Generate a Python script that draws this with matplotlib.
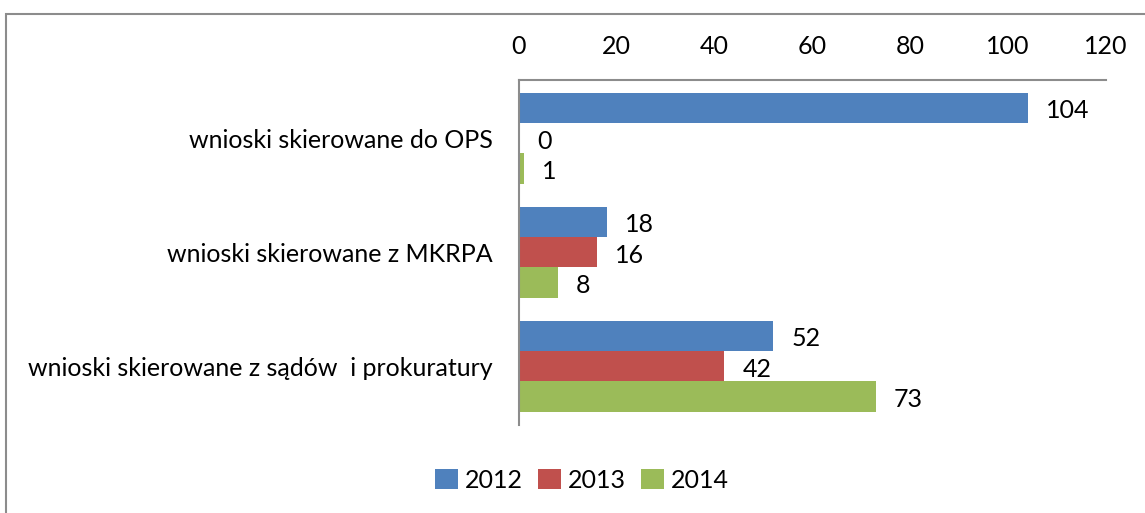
import numpy as np
import matplotlib
matplotlib.use("Agg")
from matplotlib import pyplot as plt
from matplotlib.patches import Rectangle

categories = ["wnioski skierowane do OPS",
              "wnioski skierowane z MKRPA",
              "wnioski skierowane z sądów  i prokuratury"]
years = ["2012", "2013", "2014"]
vals_2012 = [104, 18, 52]
vals_2013 = [0, 16, 42]
vals_2014 = [1, 8, 73]
xticks = [0, 20, 40, 60, 80, 100, 120]

colors = ["#4F81BD", "#C0504D", "#9BBB59"]
FS = 18
plt.rcParams['font.family'] = ['Lato', 'DejaVu Sans']

fig = plt.figure(figsize=(11.45, 5.13), dpi=100)
W, H = 1145, 513
# axes box in pixel coords (left, top, right, bottom)
l, t, r, b = 519, 80, 1106, 425
ax = fig.add_axes([l / W, 1 - b / H, (r - l) / W, (b - t) / H])

# outer chart border
fig.patches.append(Rectangle((6 / W, -0.2), 2, 1.2 - 14 / H, transform=fig.transFigure,
                             fill=False, edgecolor="#8c8c8c", linewidth=1.5))

y = np.arange(len(categories))
h = 0.266
series = [vals_2012, vals_2013, vals_2014]
for i, (vals, c, yr) in enumerate(zip(series, colors, years)):
    pos = y + (i - 1) * h
    ax.barh(pos, vals, height=h, color=c, label=yr)
    for p, v in zip(pos, vals):
        ax.annotate(str(v), (v, p), xytext=(18, -3), textcoords="offset pixels",
                    ha="left", va="center", fontsize=FS)

ax.set_xlim(0, 120)
ax.set_ylim(2.515, -0.51)
ax.set_xticks(xticks)
ax.set_yticks(y)
ax.set_yticklabels(categories)
ax.xaxis.tick_top()
ax.tick_params(axis="x", length=0, pad=16, labelsize=FS)
ax.tick_params(axis="y", length=0, pad=19, labelsize=FS)
for s in ["right", "bottom"]:
    ax.spines[s].set_visible(False)
for s in ["top", "left"]:
    ax.spines[s].set_color("#8c8c8c")
    ax.spines[s].set_linewidth(1.5)

fig.legend(loc="center", bbox_to_anchor=(582 / W, 1 - 480 / H), ncol=3, frameon=False,
           fontsize=FS, handlelength=0.9, handleheight=0.9, handletextpad=0.3,
           columnspacing=0.6)

fig.savefig("out.png", dpi=100)
